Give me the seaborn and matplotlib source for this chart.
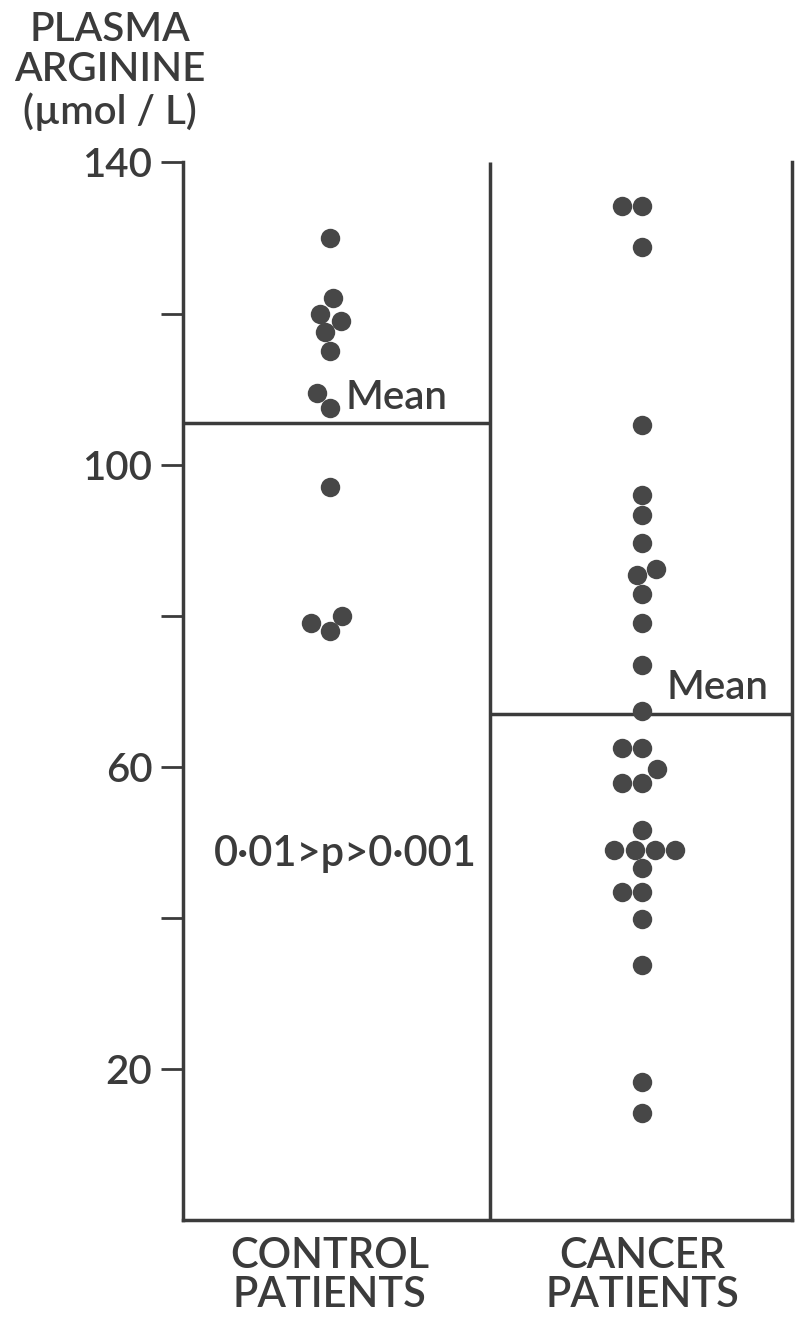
import numpy as np
import pandas as pd
import matplotlib
matplotlib.use("Agg")
import matplotlib.pyplot as plt
import seaborn as sns

# values (umol/L)
groups = ["CONTROL\nPATIENTS", "CANCER\nPATIENTS"]
control = [130, 122, 120, 119, 117.5, 115, 109.5, 107.5, 97, 80, 79, 78]
cancer = [134.3, 134.3, 128.8, 105.2, 96, 93.3, 89.6, 86.2, 85.4, 82.9, 79,
          73.5, 67.4, 62.5, 62.5, 59.7, 57.9, 57.9, 51.6, 49, 49, 49, 49,
          46.6, 43.4, 43.4, 39.9, 33.8, 18.3, 14.2]
means = [105.5, 67.0]
p_text = "0·01>p>0·001"
major_ticks = [20, 60, 100, 140]
minor_ticks = [40, 80, 120]

data = pd.DataFrame({
    "group": [groups[0]] * len(control) + [groups[1]] * len(cancer),
    "arginine": control + cancer,
})

sns.set_style("white")
plt.rcParams["font.family"] = ["Lato", "DejaVu Sans"]
plt.rcParams["font.weight"] = "semibold"
ink = "#3b3b3b"

fig = plt.figure(figsize=(7.95, 13.21), dpi=100)
ax = fig.add_axes([0.230, 0.0765, 0.766, 0.8005])

sns.swarmplot(data=data, x="group", y="arginine", order=groups,
              color="#474747", size=14, linewidth=0, ax=ax)

ax.set_xlim(-0.47, 1.48)
ax.set_ylim(0, 140)
divider = 0.515

# group divider and mean lines
ax.vlines(divider, 0, 140, color=ink, lw=2.5)
ax.hlines(means[0], -0.47, divider, color=ink, lw=2.5)
ax.hlines(means[1], divider, 1.48, color=ink, lw=2.5)

ax.text(0.05, means[0] + 1.0, "Mean", fontsize=29, color=ink, va="bottom", ha="left")
ax.text(1.08, means[1] + 1.0, "Mean", fontsize=29, color=ink, va="bottom", ha="left")
ax.text(0.05, 48.5, p_text, fontsize=30, color=ink, va="center", ha="center")

ax.spines["top"].set_visible(False)
for s in ["left", "bottom", "right"]:
    ax.spines[s].set_color(ink)
    ax.spines[s].set_linewidth(2.5)

ax.set_yticks(major_ticks)
ax.set_yticks(minor_ticks, minor=True)
ax.tick_params(axis="y", which="major", direction="out", length=16, width=2,
               color=ink, labelsize=29, labelcolor=ink, left=True, pad=6)
ax.tick_params(axis="y", which="minor", direction="out", length=16, width=2,
               color=ink, left=True)
ax.tick_params(axis="x", length=0, labelsize=30, labelcolor=ink, pad=12)
ax.set_xlabel("")
ax.set_ylabel("")
for lab in ax.get_xticklabels():
    lab.set_linespacing(1.05)

fig.text(0.138, 0.992, "PLASMA\nARGININE\n(µmol / L)", fontsize=29, color=ink,
         ha="center", va="top", linespacing=1.12)

fig.savefig("out.png", dpi=100, facecolor="white")
